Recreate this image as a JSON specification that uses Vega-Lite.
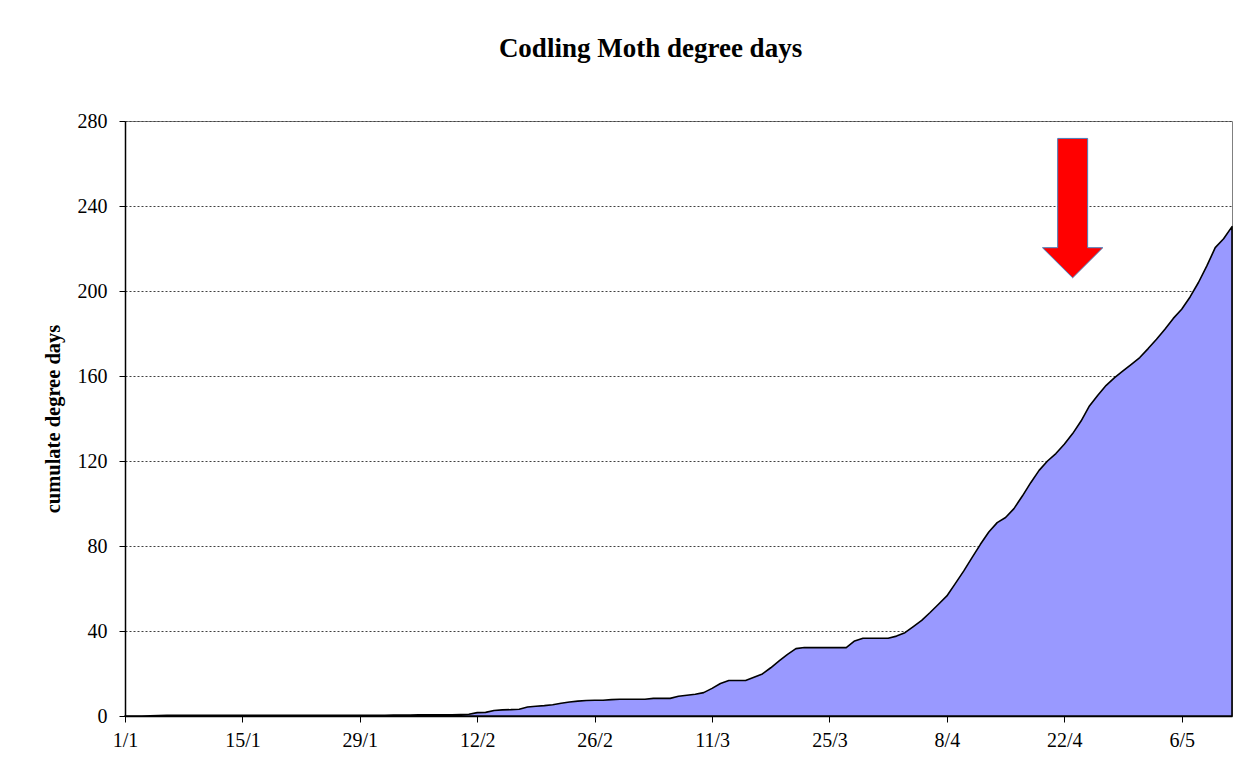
{
  "$schema": "https://vega.github.io/schema/vega-lite/v6.json",
  "autosize": {"type": "none"},
  "width": 1107,
  "height": 595,
  "padding": {"left": 125, "top": 121, "right": 28, "bottom": 59},
  "background": "white",
  "title": {
    "text": "Codling Moth degree days",
    "font": "Liberation Serif",
    "fontSize": 27,
    "fontWeight": "bold",
    "color": "black",
    "anchor": "middle",
    "frame": "group",
    "baseline": "alphabetic",
    "dx": -28,
    "offset": 27
  },
  "config": {
    "view": {"stroke": "#808080", "strokeWidth": 1},
    "axis": {
      "labelFont": "Liberation Serif",
      "labelFontSize": 20,
      "labelColor": "black",
      "titleFont": "Liberation Serif",
      "titleColor": "black",
      "domainColor": "black",
      "domainWidth": 1.5,
      "tickColor": "black",
      "tickWidth": 1,
      "tickSize": 6
    }
  },
  "datasets": {
    "dd": [
      {"date": "2008/01/01", "dd": 0},
      {"date": "2008/01/02", "dd": 0},
      {"date": "2008/01/03", "dd": 0},
      {"date": "2008/01/04", "dd": 0.1},
      {"date": "2008/01/05", "dd": 0.2},
      {"date": "2008/01/06", "dd": 0.3},
      {"date": "2008/01/07", "dd": 0.3},
      {"date": "2008/01/08", "dd": 0.3},
      {"date": "2008/01/09", "dd": 0.3},
      {"date": "2008/01/10", "dd": 0.3},
      {"date": "2008/01/11", "dd": 0.3},
      {"date": "2008/01/12", "dd": 0.3},
      {"date": "2008/01/13", "dd": 0.3},
      {"date": "2008/01/14", "dd": 0.3},
      {"date": "2008/01/15", "dd": 0.3},
      {"date": "2008/01/16", "dd": 0.3},
      {"date": "2008/01/17", "dd": 0.3},
      {"date": "2008/01/18", "dd": 0.3},
      {"date": "2008/01/19", "dd": 0.3},
      {"date": "2008/01/20", "dd": 0.3},
      {"date": "2008/01/21", "dd": 0.3},
      {"date": "2008/01/22", "dd": 0.3},
      {"date": "2008/01/23", "dd": 0.3},
      {"date": "2008/01/24", "dd": 0.3},
      {"date": "2008/01/25", "dd": 0.3},
      {"date": "2008/01/26", "dd": 0.3},
      {"date": "2008/01/27", "dd": 0.3},
      {"date": "2008/01/28", "dd": 0.3},
      {"date": "2008/01/29", "dd": 0.3},
      {"date": "2008/01/30", "dd": 0.3},
      {"date": "2008/01/31", "dd": 0.3},
      {"date": "2008/02/01", "dd": 0.3},
      {"date": "2008/02/02", "dd": 0.4},
      {"date": "2008/02/03", "dd": 0.4},
      {"date": "2008/02/04", "dd": 0.5},
      {"date": "2008/02/05", "dd": 0.6},
      {"date": "2008/02/06", "dd": 0.6},
      {"date": "2008/02/07", "dd": 0.6},
      {"date": "2008/02/08", "dd": 0.6},
      {"date": "2008/02/09", "dd": 0.6},
      {"date": "2008/02/10", "dd": 0.7},
      {"date": "2008/02/11", "dd": 0.8},
      {"date": "2008/02/12", "dd": 1.6},
      {"date": "2008/02/13", "dd": 1.7},
      {"date": "2008/02/14", "dd": 2.6},
      {"date": "2008/02/15", "dd": 2.9},
      {"date": "2008/02/16", "dd": 3.0},
      {"date": "2008/02/17", "dd": 3.2},
      {"date": "2008/02/18", "dd": 4.2},
      {"date": "2008/02/19", "dd": 4.6},
      {"date": "2008/02/20", "dd": 4.9},
      {"date": "2008/02/21", "dd": 5.3},
      {"date": "2008/02/22", "dd": 6.0},
      {"date": "2008/02/23", "dd": 6.6},
      {"date": "2008/02/24", "dd": 7.0},
      {"date": "2008/02/25", "dd": 7.3},
      {"date": "2008/02/26", "dd": 7.4},
      {"date": "2008/02/27", "dd": 7.4},
      {"date": "2008/02/28", "dd": 7.7},
      {"date": "2008/02/29", "dd": 7.9},
      {"date": "2008/03/01", "dd": 7.9},
      {"date": "2008/03/02", "dd": 7.9},
      {"date": "2008/03/03", "dd": 7.9},
      {"date": "2008/03/04", "dd": 8.3},
      {"date": "2008/03/05", "dd": 8.3},
      {"date": "2008/03/06", "dd": 8.3},
      {"date": "2008/03/07", "dd": 9.3},
      {"date": "2008/03/08", "dd": 9.8},
      {"date": "2008/03/09", "dd": 10.2},
      {"date": "2008/03/10", "dd": 11.0},
      {"date": "2008/03/11", "dd": 13.0},
      {"date": "2008/03/12", "dd": 15.3},
      {"date": "2008/03/13", "dd": 16.7},
      {"date": "2008/03/14", "dd": 16.7},
      {"date": "2008/03/15", "dd": 16.7},
      {"date": "2008/03/16", "dd": 18.2},
      {"date": "2008/03/17", "dd": 19.8},
      {"date": "2008/03/18", "dd": 22.7},
      {"date": "2008/03/19", "dd": 25.9},
      {"date": "2008/03/20", "dd": 29.0},
      {"date": "2008/03/21", "dd": 31.7},
      {"date": "2008/03/22", "dd": 32.2},
      {"date": "2008/03/23", "dd": 32.2},
      {"date": "2008/03/24", "dd": 32.2},
      {"date": "2008/03/25", "dd": 32.2},
      {"date": "2008/03/26", "dd": 32.2},
      {"date": "2008/03/27", "dd": 32.2},
      {"date": "2008/03/28", "dd": 35.3},
      {"date": "2008/03/29", "dd": 36.6},
      {"date": "2008/03/30", "dd": 36.6},
      {"date": "2008/03/31", "dd": 36.6},
      {"date": "2008/04/01", "dd": 36.6},
      {"date": "2008/04/02", "dd": 37.6},
      {"date": "2008/04/03", "dd": 39.2},
      {"date": "2008/04/04", "dd": 42.1},
      {"date": "2008/04/05", "dd": 45.0},
      {"date": "2008/04/06", "dd": 48.7},
      {"date": "2008/04/07", "dd": 52.6},
      {"date": "2008/04/08", "dd": 56.5},
      {"date": "2008/04/09", "dd": 62.3},
      {"date": "2008/04/10", "dd": 68.2},
      {"date": "2008/04/11", "dd": 74.5},
      {"date": "2008/04/12", "dd": 80.8},
      {"date": "2008/04/13", "dd": 86.6},
      {"date": "2008/04/14", "dd": 91.0},
      {"date": "2008/04/15", "dd": 93.4},
      {"date": "2008/04/16", "dd": 97.6},
      {"date": "2008/04/17", "dd": 103.5},
      {"date": "2008/04/18", "dd": 109.8},
      {"date": "2008/04/19", "dd": 115.6},
      {"date": "2008/04/20", "dd": 120.0},
      {"date": "2008/04/21", "dd": 123.5},
      {"date": "2008/04/22", "dd": 127.9},
      {"date": "2008/04/23", "dd": 132.9},
      {"date": "2008/04/24", "dd": 138.8},
      {"date": "2008/04/25", "dd": 145.9},
      {"date": "2008/04/26", "dd": 150.9},
      {"date": "2008/04/27", "dd": 155.6},
      {"date": "2008/04/28", "dd": 159.2},
      {"date": "2008/04/29", "dd": 162.4},
      {"date": "2008/04/30", "dd": 165.5},
      {"date": "2008/05/01", "dd": 168.7},
      {"date": "2008/05/02", "dd": 172.9},
      {"date": "2008/05/03", "dd": 177.3},
      {"date": "2008/05/04", "dd": 182.0},
      {"date": "2008/05/05", "dd": 187.1},
      {"date": "2008/05/06", "dd": 191.4},
      {"date": "2008/05/07", "dd": 197.2},
      {"date": "2008/05/08", "dd": 204.0},
      {"date": "2008/05/09", "dd": 211.8},
      {"date": "2008/05/10", "dd": 220.4},
      {"date": "2008/05/11", "dd": 224.6},
      {"date": "2008/05/12", "dd": 230.3}
    ],
    "arrow": [
      {"date": "2008/04/23", "dd": 239}
    ]
  },
  "layer": [
    {
      "data": {"name": "dd"},
      "mark": {"type": "area", "color": "#9999FF", "stroke": "black", "strokeWidth": 1.6, "strokeJoin": "round"},
      "encoding": {
        "x": {
          "field": "date",
          "type": "temporal",
          "scale": {"domain": [{"year": 2008, "month": 1, "date": 1}, {"year": 2008, "month": 5, "date": 12}], "nice": false},
          "axis": {
            "title": null,
            "grid": false,
            "format": "%-d/%-m",
            "values": [
              {"year": 2008, "month": 1, "date": 1},
              {"year": 2008, "month": 1, "date": 15},
              {"year": 2008, "month": 1, "date": 29},
              {"year": 2008, "month": 2, "date": 12},
              {"year": 2008, "month": 2, "date": 26},
              {"year": 2008, "month": 3, "date": 11},
              {"year": 2008, "month": 3, "date": 25},
              {"year": 2008, "month": 4, "date": 8},
              {"year": 2008, "month": 4, "date": 22},
              {"year": 2008, "month": 5, "date": 6}
            ],
            "labelPadding": 8,
            "labelFlush": false,
            "labelOverlap": false
          }
        },
        "y": {
          "field": "dd",
          "type": "quantitative",
          "scale": {"domain": [0, 280], "nice": false},
          "axis": {
            "title": "cumulate degree days",
            "titleFontSize": 20.5,
            "titleFontWeight": "bold",
            "titlePadding": 14,
            "values": [0, 40, 80, 120, 160, 200, 240, 280],
            "grid": true,
            "gridColor": "#404040",
            "gridDash": [2, 2],
            "gridWidth": 1,
            "labelPadding": 12
          }
        }
      }
    },
    {
      "data": {"name": "arrow"},
      "mark": {
        "type": "point",
        "shape": "M -0.215 -1 L 0.215 -1 L 0.215 0.568 L 0.433 0.568 L 0 1 L -0.433 0.568 L -0.215 0.568 Z",
        "size": 19430,
        "filled": true,
        "fill": "#FF0000",
        "stroke": "#4A7EBB",
        "strokeWidth": 1,
        "opacity": 1
      },
      "encoding": {
        "x": {"field": "date", "type": "temporal"},
        "y": {"field": "dd", "type": "quantitative"}
      }
    }
  ]
}
